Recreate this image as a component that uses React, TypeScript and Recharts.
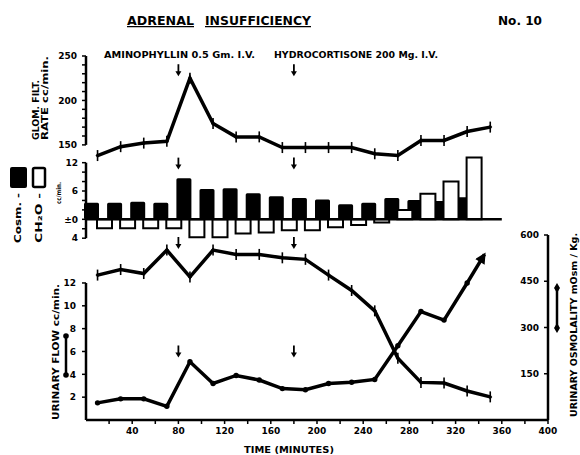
import React from 'react';
import { Bar, ComposedChart, Line, ReferenceDot, ReferenceLine, XAxis, YAxis } from 'recharts';

// sampling times (minutes), mid-points of the 20 min collection periods
const minutes = [10, 30, 50, 70, 90, 110, 130, 150, 170, 190, 210, 230, 250, 270, 290, 310, 330, 350];
const gfr = [138, 148, 152, 154, 225, 174, 159, 159, 147, 147, 147, 147, 140, 138, 155, 155, 165, 170];
const osmolality = [470, 488, 475, 551, 464, 551, 537, 537, 526, 521, 470, 420, 354, 200, 122, 120, 94, 75];

// urinary flow, last point is the arrow tip
const flowMinutes = [10, 30, 50, 70, 90, 110, 130, 150, 170, 190, 210, 230, 250, 270, 290, 310, 330, 345];
const urineFlow = [1.5, 1.85, 1.85, 1.2, 5.1, 3.2, 3.9, 3.5, 2.75, 2.65, 3.2, 3.3, 3.55, 6.5, 9.5, 8.75, 12.0, 14.5];

const barMinutes = [10, 30, 50, 70, 90, 110, 130, 150, 170, 190, 210, 230, 250, 270, 290, 310, 330];
const cOsm = [3.5, 3.5, 3.7, 3.5, 8.7, 6.4, 6.6, 5.5, 4.9, 4.5, 4.2, 3.2, 3.5, 4.5, 4.1, 3.9, 4.7];
const cH2O = [-1.9, -1.9, -1.9, -1.9, -3.8, -3.8, -3.0, -2.8, -2.3, -2.3, -1.7, -1.2, -0.7, 2.0, 5.4, 8.0, 13.1];

const doseMinutes = [80, 180];
const timeTicks = [20, 40, 60, 80, 100, 120, 140, 160, 180, 200, 220, 240, 260, 280, 300, 320, 340, 360, 380, 400];
const gfrTicks = [150, 160, 170, 180, 190, 200, 210, 220, 230, 240, 250];
const gfrLabels = [150, 200, 250];
const clearanceTicks = [-4, -2, 0, 2, 4, 6, 8, 10, 12];
const flowTicks = [2, 4, 6, 8, 10, 12];
const osmTicks = [150, 300, 450, 600];

const gfrData = minutes.map((t, i) => ({ t, gfr: gfr[i] }));
const osmData = minutes.map((t, i) => ({ t, osm: osmolality[i] }));
const flowData = flowMinutes.map((t, i) => ({ t, flow: urineFlow[i] }));
const barData = barMinutes.map((t, i) => ({ t, cosm: cOsm[i], ch2o: cH2O[i] }));

const FONT = "'DejaVu Sans', sans-serif";
const tickStyle = { fill: '#000', fontSize: 9, fontWeight: 700, fontFamily: FONT };

const TickMark = (props: any) => {
  const { cx, cy, index } = props;
  if (cx == null || cy == null) return <g key={index} />;
  return (
    <g key={index}>
      <line x1={cx} x2={cx} y1={cy - 5.5} y2={cy + 5.5} stroke="#000" strokeWidth={1.6} />
      <path d={`M${cx} ${cy - 2.5} L${cx + 2} ${cy} L${cx} ${cy + 2.5} L${cx - 2} ${cy} Z`} fill="#000" />
    </g>
  );
};

const FlowDot = (props: any) => {
  const { cx, cy, index } = props;
  if (cx == null || index === flowMinutes.length - 1) return <g key={index} />;
  return <circle key={index} cx={cx} cy={cy} r={2.7} fill="#000" />;
};

const DownArrow = (props: any) => {
  const { cx, cy } = props;
  return (
    <g>
      <line x1={cx} x2={cx} y1={cy - 6} y2={cy + 2} stroke="#000" strokeWidth={1.8} />
      <path d={`M${cx - 3} ${cy + 1} L${cx + 3} ${cy + 1} L${cx} ${cy + 6} Z`} fill="#000" />
    </g>
  );
};

const W = 580;

export default function App() {
  return (
    <div style={{ position: 'absolute', left: 0, top: 0, width: W, height: 455, background: '#fff', fontFamily: FONT }}>
      {/* glomerular filtration rate */}
      <div style={{ position: 'absolute', left: 0, top: 0 }}>
        <ComposedChart width={W} height={170} data={gfrData} margin={{ top: 56, right: 32, bottom: 10, left: 46 }}>
          <XAxis type="number" dataKey="t" domain={[0, 400]} hide />
          <YAxis
            domain={[133, 250]}
            ticks={gfrTicks}
            interval={0}
            width={40}
            axisLine={false}
            tickSize={4}
            tickMargin={5}
            tickLine={{ stroke: '#000', strokeWidth: 1.5 }}
            tick={tickStyle}
            tickFormatter={(v: number) => (gfrLabels.includes(v) ? String(v) : '')}
          />
          <ReferenceLine segment={[{ x: 0, y: 150 }, { x: 0, y: 250 }]} stroke="#000" strokeWidth={2.5} />
          {doseMinutes.map((d) => (
            <ReferenceDot key={d} x={d} y={234} shape={DownArrow} />
          ))}
          <Line dataKey="gfr" stroke="#000" strokeWidth={3.5} dot={TickMark} isAnimationActive={false} />
        </ComposedChart>
      </div>

      {/* osmolar and free water clearance */}
      <div style={{ position: 'absolute', left: 0, top: 0 }}>
        <ComposedChart
          width={W}
          height={250}
          data={barData}
          barCategoryGap={-2}
          barGap={-2}
          margin={{ top: 155.6, right: 32, bottom: 11.8, left: 46 }}
        >
          <XAxis type="number" dataKey="t" domain={[0, 400]} hide />
          <YAxis
            domain={[-4, 13.5]}
            ticks={clearanceTicks}
            interval={0}
            width={40}
            axisLine={false}
            tickSize={4}
            tickMargin={4}
            tickLine={{ stroke: '#000', strokeWidth: 1.5 }}
            tick={tickStyle}
            tickFormatter={(v: number) => (v === 12 ? '12' : v === 6 ? '6' : v === 0 ? '±0' : v === -4 ? '4' : '')}
          />
          <ReferenceLine segment={[{ x: 0, y: -4 }, { x: 0, y: 12 }]} stroke="#000" strokeWidth={2.5} />
          <ReferenceLine segment={[{ x: 0, y: 0 }, { x: 360, y: 0 }]} stroke="#000" strokeWidth={2.5} />
          <Bar dataKey="cosm" fill="#000" radius={1.5} isAnimationActive={false} />
          <Bar dataKey="ch2o" fill="#fff" stroke="#000" strokeWidth={2} isAnimationActive={false} />
          {doseMinutes.map((d) => (
            <ReferenceDot key={d} x={d} y={11.8} shape={DownArrow} />
          ))}
        </ComposedChart>
      </div>

      {/* urinary flow and osmolality */}
      <div style={{ position: 'absolute', left: 0, top: 0 }}>
        <ComposedChart width={W} height={455} margin={{ top: 235, right: 32, bottom: 5, left: 46 }}>
          <defs>
            <marker id="flowArrow" viewBox="0 0 10 10" refX="8" refY="5" markerWidth="12" markerHeight="11" markerUnits="userSpaceOnUse" orient="auto">
              <path d="M0,0 L10,5 L0,10 z" fill="#000" />
            </marker>
          </defs>
          <XAxis
            type="number"
            dataKey="t"
            domain={[0, 400]}
            ticks={timeTicks}
            interval={0}
            height={30}
            axisLine={{ stroke: '#000', strokeWidth: 2.5 }}
            tickLine={{ stroke: '#000', strokeWidth: 1.5 }}
            tickSize={4}
            tickMargin={4}
            tick={tickStyle}
            tickFormatter={(v: number) => (v % 40 === 0 ? String(v) : '')}
          />
          <YAxis
            yAxisId="flow"
            domain={[0, 16.2]}
            ticks={flowTicks}
            interval={0}
            width={40}
            axisLine={false}
            tickSize={4}
            tickMargin={6}
            tickLine={{ stroke: '#000', strokeWidth: 1.5 }}
            tick={tickStyle}
          />
          <YAxis
            yAxisId="osm"
            orientation="right"
            mirror
            domain={[0, 600]}
            ticks={osmTicks}
            interval={0}
            axisLine={{ stroke: '#000', strokeWidth: 2.5 }}
            tickSize={4}
            tickMargin={5}
            tickLine={{ stroke: '#000', strokeWidth: 1.5 }}
            tick={tickStyle}
          />
          <ReferenceLine yAxisId="flow" segment={[{ x: 0, y: 0 }, { x: 0, y: 12 }]} stroke="#000" strokeWidth={2.5} />
          {doseMinutes.map((d) => (
            <ReferenceDot key={`a${d}`} yAxisId="flow" x={d} y={15.5} shape={DownArrow} />
          ))}
          {doseMinutes.map((d) => (
            <ReferenceDot key={`b${d}`} yAxisId="flow" x={d} y={6} shape={DownArrow} />
          ))}
          <Line
            yAxisId="osm"
            data={osmData}
            dataKey="osm"
            stroke="#000"
            strokeWidth={3.5}
            dot={TickMark}
            isAnimationActive={false}
          />
          <Line
            yAxisId="flow"
            data={flowData}
            dataKey="flow"
            stroke="#000"
            strokeWidth={3.5}
            dot={FlowDot}
            markerEnd="url(#flowArrow)"
            isAnimationActive={false}
          />
        </ComposedChart>
      </div>

      {/* titles, axis captions and legend keys */}
      <svg width={W} height={455} style={{ position: 'absolute', left: 0, top: 0, pointerEvents: 'none' }}>
        <g fontFamily={FONT} fontWeight={700} fill="#000">
          <text x={127} y={25} fontSize={12.5} textLength={67} lengthAdjust="spacingAndGlyphs" textDecoration="underline">ADRENAL</text>
          <text x={205} y={25} fontSize={12.5} textLength={106} lengthAdjust="spacingAndGlyphs" textDecoration="underline">INSUFFICIENCY</text>
          <text x={498} y={25} fontSize={12.5} textLength={44} lengthAdjust="spacingAndGlyphs">No. 10</text>

          <text x={104} y={58} fontSize={8.5} textLength={151} lengthAdjust="spacingAndGlyphs">AMINOPHYLLIN 0.5 Gm. I.V.</text>
          <text x={274} y={58} fontSize={8.5} textLength={164} lengthAdjust="spacingAndGlyphs">HYDROCORTISONE 200 Mg. I.V.</text>

          <text transform="translate(39,140) rotate(-90)" fontSize={8} textLength={60} lengthAdjust="spacingAndGlyphs">GLOM. FILT.</text>
          <text transform="translate(48,140) rotate(-90)" fontSize={8} textLength={84} lengthAdjust="spacingAndGlyphs">RATE cc/min.</text>

          <rect x={10} y={167} width={17} height={21} rx={2} fill="#000" />
          <rect x={33} y={168} width={12} height={19} rx={1.5} fill="#fff" stroke="#000" strokeWidth={2.5} />
          <text transform="translate(21,243) rotate(-90)" fontSize={9} textLength={50} lengthAdjust="spacingAndGlyphs">Cosm. -</text>
          <text transform="translate(42,243) rotate(-90)" fontSize={9} textLength={50} lengthAdjust="spacingAndGlyphs">CH₂O -</text>
          <text transform="translate(61,204) rotate(-90)" fontSize={6.5} textLength={22} lengthAdjust="spacingAndGlyphs">cc/min.</text>

          <text transform="translate(59,420) rotate(-90)" fontSize={8.5} textLength={136} lengthAdjust="spacingAndGlyphs">URINARY FLOW cc/min.</text>
          <line x1={66} x2={66} y1={336} y2={375} stroke="#000" strokeWidth={2.5} />
          <circle cx={66} cy={336} r={2.8} fill="#000" />
          <circle cx={66} cy={375} r={2.8} fill="#000" />

          <text transform="translate(577,417) rotate(-90)" fontSize={8.5} textLength={184} lengthAdjust="spacingAndGlyphs">URINARY OSMOLALITY mOsm / Kg.</text>
          <line x1={557} x2={557} y1={288} y2={328} stroke="#000" strokeWidth={2.5} />
          <path d="M557 283 L560 288 L557 293 L554 288 Z" fill="#000" />
          <path d="M557 323 L560 328 L557 333 L554 328 Z" fill="#000" />

          <text x={289} y={453} fontSize={8.5} textAnchor="middle" textLength={90} lengthAdjust="spacingAndGlyphs">TIME (MINUTES)</text>
        </g>
      </svg>
    </div>
  );
}
